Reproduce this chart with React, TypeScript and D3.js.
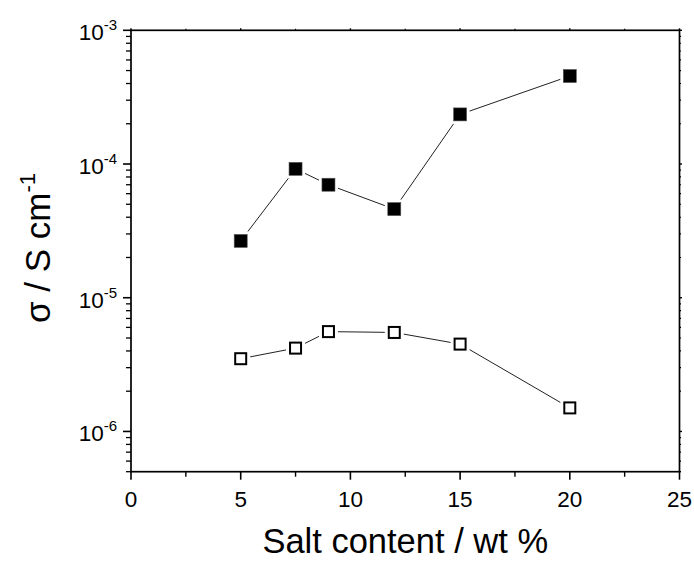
import * as d3 from "d3";

const salt = [5, 7.5, 9, 12, 15, 20];
const sigmaFilled = [2.66e-5, 9.2e-5, 7.0e-5, 4.6e-5, 2.35e-4, 4.55e-4];
const sigmaOpen = [3.5e-6, 4.2e-6, 5.58e-6, 5.5e-6, 4.5e-6, 1.5e-6];

const xTicks = [0, 5, 10, 15, 20, 25];
const xMinor = [2.5, 7.5, 12.5, 17.5, 22.5];
const yDecades = [-6, -5, -4, -3];

export default function App() {
  const width = 694;
  const height = 561;
  const margin = { top: 30.3, right: 14.5, bottom: 89.3, left: 131 };
  const font = "'Liberation Sans', Arial, sans-serif";

  const xScale = d3
    .scaleLinear()
    .domain([0, 25])
    .range([margin.left, width - margin.right]);

  const yScale = d3
    .scaleLog()
    .domain([5e-7, 1e-3])
    .range([height - margin.bottom, margin.top]);

  const [x0, x1] = xScale.range();
  const [yb, yt] = yScale.range();

  // minor ticks 2..9 for each decade inside the domain
  const yMinor: number[] = [];
  [-7, -6, -5, -4].forEach((e) => {
    for (let k = 2; k <= 9; k++) {
      const v = k * Math.pow(10, e);
      if (v >= 5e-7 && v < 1e-3) yMinor.push(v);
    }
  });

  const line = d3
    .line<number>()
    .x((_, i) => xScale(salt[i]))
    .y((d) => yScale(d));

  const ms = 13;

  return (
    <svg
      width={width}
      height={height}
      style={{ position: "absolute", left: 0, top: 0, background: "white" }}
      fontFamily={font}
    >
      <rect x={0} y={0} width={width} height={height} fill="white" />

      {/* data lines */}
      <path d={line(sigmaFilled) ?? ""} fill="none" stroke="#222" strokeWidth={1} />
      <path d={line(sigmaOpen) ?? ""} fill="none" stroke="#222" strokeWidth={1} />

      {/* filled squares */}
      {sigmaFilled.map((d, i) => (
        <g key={"f" + i}>
          <rect
            x={xScale(salt[i]) - ms / 2 - 3}
            y={yScale(d) - ms / 2 - 3}
            width={ms + 6}
            height={ms + 6}
            fill="white"
          />
          <rect
            x={xScale(salt[i]) - ms / 2}
            y={yScale(d) - ms / 2}
            width={ms}
            height={ms}
            fill="black"
            stroke="#555"
            strokeWidth={0.6}
          />
        </g>
      ))}

      {/* open squares */}
      {sigmaOpen.map((d, i) => (
        <g key={"o" + i}>
          <rect
            x={xScale(salt[i]) - ms / 2 - 3}
            y={yScale(d) - ms / 2 - 3}
            width={ms + 6}
            height={ms + 6}
            fill="white"
          />
          <rect
            x={xScale(salt[i]) - ms / 2 + 1}
            y={yScale(d) - ms / 2 + 1}
            width={ms - 2}
            height={ms - 2}
            fill="white"
            stroke="black"
            strokeWidth={2}
          />
        </g>
      ))}

      {/* frame */}
      <rect
        x={x0}
        y={yt}
        width={x1 - x0}
        height={yb - yt}
        fill="none"
        stroke="black"
        strokeWidth={1.7}
      />

      {/* x ticks */}
      {xTicks.map((t) => (
        <g key={"xt" + t}>
          <line x1={xScale(t)} x2={xScale(t)} y1={yb} y2={yb + 8} stroke="black" strokeWidth={1.6} />
          <line x1={xScale(t)} x2={xScale(t)} y1={yt} y2={yt - 2} stroke="black" strokeWidth={1.4} />
          <text
            x={xScale(t)}
            y={506.7}
            textAnchor="middle"
            fontSize={22.5}
            fill="black"
          >
            {t}
          </text>
        </g>
      ))}
      {xMinor.map((t) => (
        <g key={"xm" + t}>
          <line x1={xScale(t)} x2={xScale(t)} y1={yb} y2={yb + 5} stroke="black" strokeWidth={1.4} />
          <line x1={xScale(t)} x2={xScale(t)} y1={yt} y2={yt - 1.5} stroke="black" strokeWidth={1.2} />
        </g>
      ))}

      {/* y ticks */}
      {yDecades.map((e) => {
        const y = yScale(Math.pow(10, e));
        return (
          <g key={"yt" + e}>
            <line x1={x0 - 8} x2={x0} y1={y} y2={y} stroke="black" strokeWidth={1.6} />
            <line x1={x1} x2={x1 + 2.5} y1={y} y2={y} stroke="black" strokeWidth={1.4} />
            <text x={117} y={y + 10} textAnchor="end" fontSize={22.5} fill="black">
              <tspan>10</tspan>
              <tspan fontSize={15} dy={-10}>
                {"-" + Math.abs(e)}
              </tspan>
            </text>
          </g>
        );
      })}
      {yMinor.map((v) => (
        <g key={"ym" + v}>
          <line x1={x0 - 5} x2={x0} y1={yScale(v)} y2={yScale(v)} stroke="black" strokeWidth={1.3} />
          <line x1={x1} x2={x1 + 1.5} y1={yScale(v)} y2={yScale(v)} stroke="black" strokeWidth={1.2} />
        </g>
      ))}

      {/* axis titles */}
      <text
        x={(x0 + x1) / 2}
        y={553}
        textAnchor="middle"
        fontSize={34.5}
        fill="black"
      >
        Salt content / wt %
      </text>
      <text
        transform={`translate(50, ${(yt + yb) / 2 - 3}) rotate(-90)`}
        textAnchor="middle"
        fontSize={35}
        fill="black"
      >
        <tspan>σ / S cm</tspan>
        <tspan fontSize={22} dy={-15}>
          -1
        </tspan>
      </text>
    </svg>
  );
}
